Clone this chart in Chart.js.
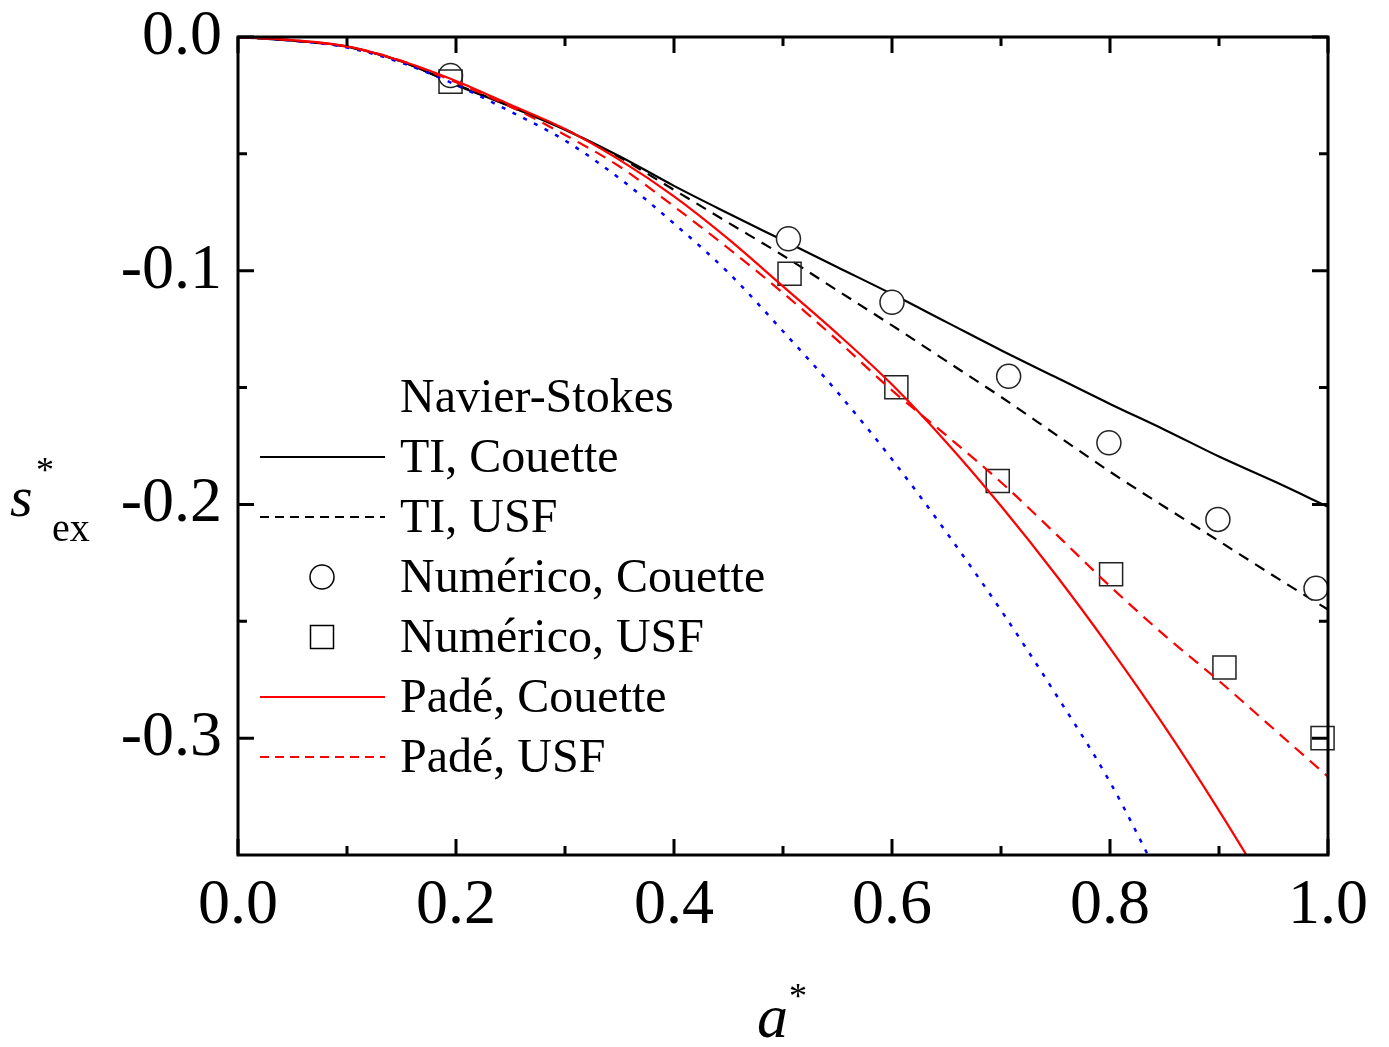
<html>

<head>
  <title>s*ex vs a*</title>
  <style>
    body { margin: 0; background: #fff; }
    .canvas { width: 1389px; height: 1047px; position: relative; }
  </style>
  <script src="https://cdn.jsdelivr.net/npm/chart.js@4.4.1/dist/chart.umd.min.js"></script>
</head>

<body>
  <div class="canvas">
    <canvas id="chart"></canvas>
  </div>

  <script>
    // reduced shear rate a* (grid used by the curves)
    const aGrid = [0, 0.05, 0.1, 0.15, 0.2, 0.25, 0.3, 0.35, 0.4, 0.45, 0.5, 0.55, 0.6, 0.65, 0.7, 0.75, 0.8, 0.85, 0.9, 0.95, 1.0];
    const tiCouette = [0, -0.0016, -0.0041, -0.0105, -0.0205, -0.0298, -0.0397, -0.051, -0.0637, -0.0755, -0.087, -0.0985, -0.110, -0.122, -0.134, -0.1455, -0.157, -0.168, -0.1795, -0.190, -0.201];
    const tiUSF = [0, -0.0016, -0.0042, -0.0105, -0.0203, -0.0296, -0.0395, -0.0515, -0.0654, -0.0795, -0.0935, -0.1085, -0.1234, -0.1387, -0.154, -0.170, -0.186, -0.201, -0.2157, -0.2305, -0.245];
    const padeCouette = [0, -0.0013, -0.004, -0.0103, -0.0188, -0.029, -0.0394, -0.0526, -0.0682, -0.0865, -0.1067, -0.127, -0.1487, -0.1735, -0.2007, -0.230, -0.2615, -0.295, -0.331, -0.369];
    const padeUSF = [0, -0.0014, -0.0041, -0.0102, -0.0194, -0.0298, -0.0419, -0.0554, -0.0725, -0.0905, -0.1095, -0.1298, -0.1512, -0.1705, -0.1905, -0.2125, -0.235, -0.256, -0.2755, -0.296, -0.3165];
    const blueDotted = [0, -0.0015, -0.0045, -0.011, -0.0205, -0.0319, -0.0443, -0.0605, -0.0798, -0.1009, -0.1259, -0.152, -0.1807, -0.212, -0.2453, -0.281, -0.3188, -0.364];

    // simulation points
    const numCouetteA = [0.195, 0.505, 0.6, 0.707, 0.799, 0.899, 0.989];
    const numCouetteS = [-0.0165, -0.0863, -0.1135, -0.1452, -0.1736, -0.2064, -0.2359];
    const numUSFA = [0.195, 0.506, 0.604, 0.697, 0.801, 0.905, 0.995];
    const numUSFS = [-0.0191, -0.1013, -0.1499, -0.190, -0.2299, -0.2698, -0.300];

    // axes
    const xTicks = [0, 0.2, 0.4, 0.6, 0.8, 1.0];
    const xMinor = [0.1, 0.3, 0.5, 0.7, 0.9];
    const yTicks = [0, -0.1, -0.2, -0.3];
    const yMinor = [-0.05, -0.15, -0.25];

    const FONT = "'Liberation Serif', 'Times New Roman', serif";
    const RED = '#ff0000';
    const BLUE = '#0000ff';

    const pts = (xs, ys) => ys.map((y, i) => ({ x: xs[i], y }));

    const legendItems = [
      { label: 'Navier-Stokes' },
      { label: 'TI, Couette', color: '#000', dash: [] },
      { label: 'TI, USF', color: '#000', dash: [9, 6] },
      { label: 'Numérico, Couette', marker: 'circle' },
      { label: 'Numérico, USF', marker: 'rect' },
      { label: 'Padé, Couette', color: RED, dash: [] },
      { label: 'Padé, USF', color: RED, dash: [9, 6] },
    ];

    const decorPlugin = {
      id: 'decor',
      afterDraw(chart) {
        const ctx = chart.ctx;
        const area = chart.chartArea;
        const xs = chart.scales.x;
        const ys = chart.scales.y;
        ctx.save();
        ctx.strokeStyle = '#000';
        ctx.lineCap = 'butt';

        // inward ticks on all four sides
        ctx.lineWidth = 3;
        const tickX = (vals, len) => vals.forEach(v => {
          const px = xs.getPixelForValue(v);
          ctx.beginPath();
          ctx.moveTo(px, area.bottom); ctx.lineTo(px, area.bottom - len);
          ctx.moveTo(px, area.top); ctx.lineTo(px, area.top + len);
          ctx.stroke();
        });
        const tickY = (vals, len) => vals.forEach(v => {
          const py = ys.getPixelForValue(v);
          ctx.beginPath();
          ctx.moveTo(area.left, py); ctx.lineTo(area.left + len, py);
          ctx.moveTo(area.right, py); ctx.lineTo(area.right - len, py);
          ctx.stroke();
        });
        tickX(xTicks, 16); tickX(xMinor, 9);
        tickY(yTicks, 16); tickY(yMinor, 9);

        // frame
        ctx.strokeRect(area.left, area.top, area.right - area.left, area.bottom - area.top);

        // legend
        ctx.fillStyle = '#000';
        ctx.font = '48px ' + FONT;
        ctx.textBaseline = 'middle';
        ctx.textAlign = 'left';
        legendItems.forEach((it, i) => {
          const y = 397 + i * 60;
          if (it.color) {
            ctx.save();
            ctx.strokeStyle = it.color;
            ctx.lineWidth = 2;
            ctx.setLineDash(it.dash);
            ctx.beginPath();
            ctx.moveTo(260, y); ctx.lineTo(385, y);
            ctx.stroke();
            ctx.restore();
          } else if (it.marker === 'circle') {
            ctx.save();
            ctx.lineWidth = 1.5;
            ctx.beginPath();
            ctx.arc(322, y, 12, 0, Math.PI * 2);
            ctx.stroke();
            ctx.restore();
          } else if (it.marker === 'rect') {
            ctx.save();
            ctx.lineWidth = 1.5;
            ctx.strokeRect(322 - 11.5, y - 11.5, 23, 23);
            ctx.restore();
          }
          ctx.fillText(it.label, 400, y + 2);
        });

        // axis titles
        ctx.textBaseline = 'alphabetic';
        ctx.font = 'italic 62px ' + FONT;
        ctx.fillText('a', 757, 1037);
        ctx.font = '36px ' + FONT;
        ctx.fillText('*', 789, 1008);

        ctx.font = 'italic 58px ' + FONT;
        ctx.fillText('s', 10, 516);
        ctx.font = '36px ' + FONT;
        ctx.fillText('*', 36, 482);
        ctx.font = '40px ' + FONT;
        ctx.fillText('ex', 52, 541);
        ctx.restore();
      }
    };

    window.chartObj = new Chart(document.querySelector('canvas#chart'), {
      type: 'line',
      plugins: [decorPlugin],
      data: {
        datasets: [
          {
            label: 'TI, Couette',
            data: pts(aGrid, tiCouette),
            borderColor: '#000', borderWidth: 2.2, pointRadius: 0,
            cubicInterpolationMode: 'monotone', order: 6,
          },
          {
            label: 'TI, USF',
            data: pts(aGrid, tiUSF),
            borderColor: '#000', borderWidth: 2.2, borderDash: [11, 8], pointRadius: 0,
            cubicInterpolationMode: 'monotone', order: 6,
          },
          {
            label: 'Numérico, Couette',
            data: pts(numCouetteA, numCouetteS),
            showLine: false, pointStyle: 'circle', pointRadius: 12,
            pointBorderColor: '#222', pointBackgroundColor: '#fff', pointBorderWidth: 1.5,
            clip: false, order: 5,
          },
          {
            label: 'Numérico, USF',
            data: pts(numUSFA, numUSFS),
            showLine: false, pointStyle: 'rect', pointRadius: 16.3,
            pointBorderColor: '#222', pointBackgroundColor: 'rgba(255,255,255,0)', pointBorderWidth: 1.5,
            clip: false, order: 4,
          },
          {
            label: 'Navier-Stokes',
            data: pts(aGrid, blueDotted),
            borderColor: BLUE, borderWidth: 2.5, borderDash: [4, 8], pointRadius: 0,
            cubicInterpolationMode: 'monotone', order: 3,
          },
          {
            label: 'Padé, USF',
            data: pts(aGrid, padeUSF),
            borderColor: RED, borderWidth: 2.2, borderDash: [12, 8], pointRadius: 0,
            cubicInterpolationMode: 'monotone', order: 2,
          },
          {
            label: 'Padé, Couette',
            data: pts(aGrid, padeCouette),
            borderColor: RED, borderWidth: 2.2, pointRadius: 0,
            cubicInterpolationMode: 'monotone', order: 1,
          },
        ],
      },
      options: {
        responsive: true,
        maintainAspectRatio: false,
        animation: false,
        layout: { padding: { left: 0, top: 37, right: 61, bottom: 0 } },
        plugins: {
          legend: { display: false },
          tooltip: { enabled: false },
        },
        scales: {
          x: {
            type: 'linear', min: 0, max: 1,
            grid: { display: false, drawTicks: false },
            border: { display: false },
            afterBuildTicks: s => { s.ticks = xTicks.map(v => ({ value: v })); },
            afterFit: s => { s.height = 192; s.paddingLeft = 0; s.paddingRight = 0; },
            ticks: {
              color: '#000', padding: 13, maxRotation: 0,
              font: { family: FONT, size: 64 },
              callback: v => v.toFixed(1),
            },
          },
          y: {
            type: 'linear', min: -0.35, max: 0,
            grid: { display: false, drawTicks: false },
            border: { display: false },
            afterBuildTicks: s => { s.ticks = yTicks.map(v => ({ value: v })); },
            afterFit: s => { s.width = 238; s.paddingTop = 0; s.paddingBottom = 0; },
            ticks: {
              color: '#000', padding: 16,
              font: { family: FONT, size: 64 },
              callback: v => v.toFixed(1),
            },
          },
        },
      },
    });
  </script>
</body>

</html>
